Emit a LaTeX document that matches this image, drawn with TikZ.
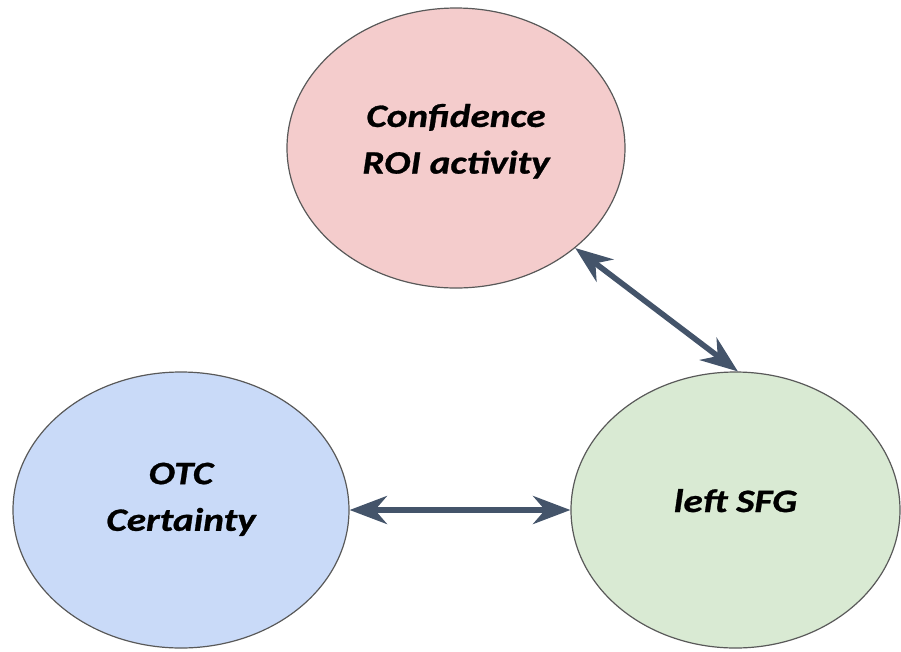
\documentclass[tikz,border=0pt]{standalone}
\usepackage{fontspec}
\setmainfont{Carlito}
\newfontfamily\labelfont{Carlito}[FakeStretch=1.2,FakeBold=0.8]
\usetikzlibrary{shapes.geometric,arrows.meta}
\definecolor{pinkfill}{HTML}{F4CCCC}
\definecolor{bluefill}{HTML}{C9DAF8}
\definecolor{greenfill}{HTML}{D9EAD3}
\definecolor{edgegray}{HTML}{595959}
\definecolor{arrowcol}{HTML}{44546A}
\begin{document}
\begin{tikzpicture}[x=0.75pt,y=-0.75pt,
  blob/.style={ellipse,draw=edgegray,line width=0.9pt,inner sep=0pt},
  txt/.style={align=center,inner sep=0pt,font=\labelfont\fontsize{24.5}{35}\selectfont\bfseries\itshape},
  link/.style={draw=arrowcol,line width=4.2pt,{Stealth[length=28pt,width=21pt,inset=9pt]}-{Stealth[length=28pt,width=21pt,inset=9pt]}}]
\useasboundingbox (0,0) rectangle (901,651);
\node[blob,fill=pinkfill,minimum width=253.5pt,minimum height=210pt] (pink) at (456,148) {};
\node[blob,fill=bluefill,minimum width=252pt,minimum height=207pt] (blue) at (181,510) {};
\node[blob,fill=greenfill,minimum width=246.75pt,minimum height=207pt] (green) at (735.5,510) {};
\node[txt] (pinkt) at ([yshift=5pt]pink.center) {Confidence\\ROI activity};
\node[txt] (bluet) at ([yshift=8pt]blue.center) {OTC\\Certainty};
\node[txt] (greent) at ([yshift=7pt]green.center) {left SFG};
\draw[link] (pink.-40) -- (green.89);
\draw[link] (blue.0) -- (green.180);
\end{tikzpicture}
\end{document}
